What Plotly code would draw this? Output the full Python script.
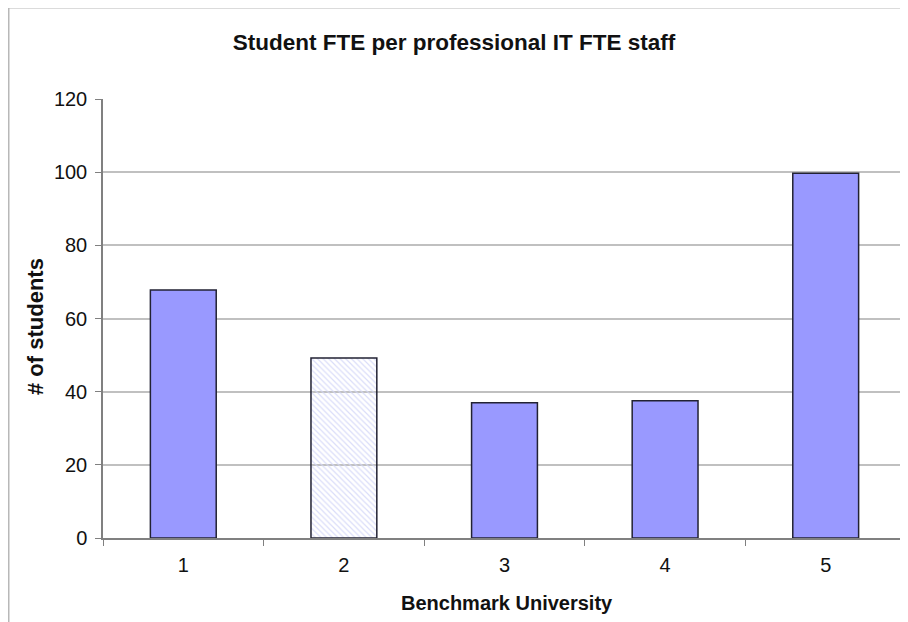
import plotly.graph_objects as go

categories = ["1", "2", "3", "4", "5"]
values = [67.8, 49.2, 37.0, 37.5, 99.7]
y_ticks = [0, 20, 40, 60, 80, 100, 120]

# page renders with an 8px body offset
OFF = 8
W, H = 908, 622
L, T = 103 - OFF, 99 - OFF
R = W - (906 - OFF)
B = H - (538 - OFF)
pw, ph = W - L - R, H - T - B

def px_x(p):
    return (p - OFF - L) / pw

def px_y(p):
    return (H - B - (p - OFF)) / ph

colors = ["#9999ff", "#d4d7f8", "#9999ff", "#9999ff", "#9999ff"]

fig = go.Figure(go.Bar(
    x=categories, y=values, width=0.41,
    marker=dict(color=colors,
                line=dict(color="#222233", width=1.5),
                pattern=dict(shape=["", "\\", "", "", ""],
                             bgcolor=colors,
                             fgcolor=["#9999ff", "#ffffff", "#9999ff", "#9999ff", "#9999ff"],
                             fgopacity=0.85, size=4, solidity=0.3,
                             fillmode="replace")),
))

fig.update_layout(
    width=W, height=H,
    margin=dict(l=L, r=R, t=T, b=B),
    paper_bgcolor="white", plot_bgcolor="white",
    font=dict(family="Liberation Sans, Arial", size=20, color="#111111"),
    title=dict(text="<b>Student FTE per professional IT FTE staff</b>",
               x=(454 - OFF) / W, xanchor="center", y=1 - (42 - OFF) / H, yanchor="middle",
               font=dict(size=22.5)),
    showlegend=False,
)
fig.update_xaxes(
    type="category", tickson="boundaries", ticks="outside", ticklen=6,
    tickcolor="#808080", showline=True, linecolor="#808080", linewidth=2,
    showgrid=False, ticklabelstandoff=8,
)
fig.update_yaxes(
    range=[0, 120], tickvals=y_ticks, ticks="outside", ticklen=6,
    tickcolor="#808080", showline=True, linecolor="#808080", linewidth=1.5,
    showgrid=True, gridcolor="#c0c0c0", gridwidth=1.5, zeroline=False,
    ticklabelstandoff=4,
)

fig.add_annotation(text="<b>Benchmark University</b>", xref="paper", yref="paper",
                   x=px_x(507), y=px_y(603), xanchor="center", yanchor="middle",
                   showarrow=False, font=dict(size=20))
fig.add_annotation(text="<b># of students</b>", xref="paper", yref="paper",
                   x=px_x(35), y=px_y(327), xanchor="center", yanchor="middle",
                   textangle=-90, showarrow=False, font=dict(size=22))

# chart-area border (top and left edges visible)
fig.add_shape(type="line", xref="paper", yref="paper",
              x0=px_x(8), x1=1.05, y0=px_y(7.5), y1=px_y(7.5),
              line=dict(color="#b8b8b8", width=2))
fig.add_shape(type="line", xref="paper", yref="paper",
              x0=px_x(8.5), x1=px_x(8.5), y0=px_y(7.5), y1=px_y(640),
              line=dict(color="#b8b8b8", width=2))

fig.write_html("out.html")
